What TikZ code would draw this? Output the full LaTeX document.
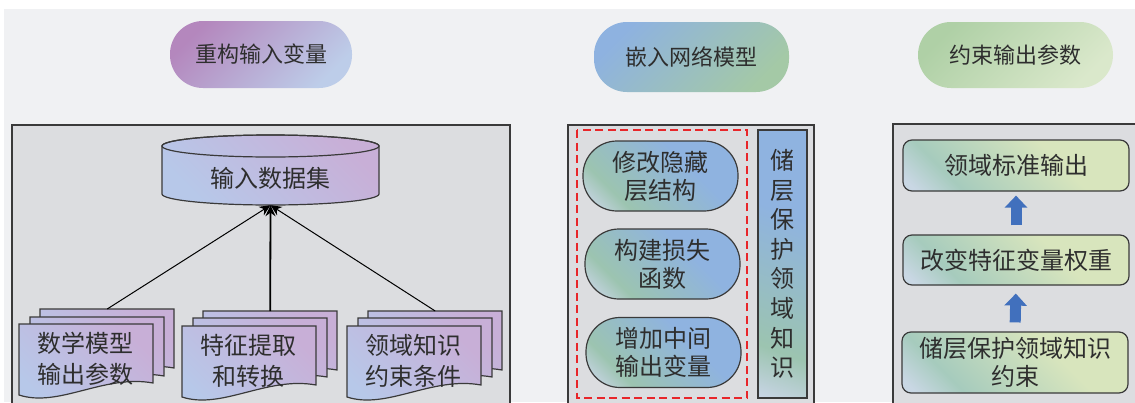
\documentclass[tikz,border=0pt]{standalone}
\usepackage{fontspec}
\setmainfont{Noto Sans CJK SC}
\usetikzlibrary{arrows.meta,calc}
\definecolor{bgc}{HTML}{F0F1F3}
\definecolor{panelc}{HTML}{DCDDE0}
\definecolor{edgec}{HTML}{3A3A3A}
\definecolor{txtc}{HTML}{2E2E2E}
\definecolor{purA}{HTML}{B487BD}
\definecolor{bluA}{HTML}{BDCDE9}
\definecolor{bluB}{HTML}{8EB2E0}
\definecolor{grnB}{HTML}{A4C9A6}
\definecolor{grnC}{HTML}{AFD0A6}
\definecolor{litC}{HTML}{DAE8CB}
\definecolor{purD}{HTML}{C8AFD7}
\definecolor{bluD}{HTML}{B7C8E9}
\definecolor{mpLight}{HTML}{C9D5E6}
\definecolor{mpGreen}{HTML}{9CC4B0}
\definecolor{mpBlue}{HTML}{8FB3E0}
\definecolor{rbLight}{HTML}{C9D7E4}
\definecolor{rbTeal}{HTML}{A6CBBD}
\definecolor{rbYel}{HTML}{D8E5BD}
\definecolor{arrowblue}{HTML}{4170BD}
\definecolor{dashred}{HTML}{E8262A}
\pgfdeclareverticalshading{midpillshade}{100bp}{color(0bp)=(mpLight); color(18bp)=(mpLight); color(30bp)=(mpGreen); color(62bp)=(mpBlue); color(100bp)=(mpBlue)}
\pgfdeclareverticalshading{rightboxshade}{100bp}{color(0bp)=(rbLight); color(18bp)=(rbLight); color(30bp)=(rbTeal); color(62bp)=(rbYel); color(100bp)=(rbYel)}
\tikzset{
  panel/.style={draw=edgec, fill=panelc, line width=1.4pt},
  toppill/.style={rounded corners=33pt, inner sep=0pt, text=txtc, font=\fontsize{22pt}{26pt}\selectfont},
  pillA/.style={toppill, top color=purA, bottom color=bluA, shading angle=45},
  pillB/.style={toppill, top color=bluB, bottom color=grnB, shading angle=45},
  pillC/.style={toppill, top color=grnC, bottom color=litC, shading angle=45},
  purshade/.style={top color=purD, bottom color=bluD, shading angle=-45},
  docfill/.style={purshade, draw=edgec, line width=1.2pt},
  doctext/.style={text=txtc, align=center, font=\fontsize{24pt}{31pt}\selectfont},
  ghost/.style={inner sep=0pt, minimum width=134pt, minimum height=59pt, anchor=north west},
  midpill/.style={draw=edgec, line width=1.2pt, rounded corners=34pt, shading=midpillshade, shading angle=-45, text=txtc, align=center, inner sep=0pt, minimum width=155pt, minimum height=70pt, font=\fontsize{24pt}{28pt}\selectfont},
  vbox/.style={draw=edgec, line width=1.2pt, shading=midpillshade, shading angle=-20, text=txtc, align=center, inner sep=0pt, minimum width=49pt, minimum height=268pt, font=\fontsize{24pt}{29.6pt}\selectfont},
  rbox/.style={draw=edgec, line width=1.2pt, rounded corners=9pt, shading=rightboxshade, shading angle=-45, text=txtc, align=center, inner sep=0pt, minimum width=226pt, font=\fontsize{24pt}{28pt}\selectfont},
  thinarrow/.style={draw=black, line width=1pt, -{Stealth[length=11pt,width=10pt]}},
  thickarrow/.style={draw=black, line width=1.8pt, -{Stealth[length=11pt,width=10pt]}},
  blockarrow/.style={draw=arrowblue, line width=11pt, -{Triangle[length=12pt,width=22pt]}},
  docpage/.pic={\path[docfill] (0,0) -- (134,0) -- (134,59) .. controls (85,50) and (40,84) .. (0,71) -- cycle;}
}
\begin{document}
\begin{tikzpicture}[x=1pt,y=-1pt]
\useasboundingbox (0,0) rectangle (1135,402);
\clip (0,0) rectangle (1135,402);
\fill[white] (0,0) rectangle (1135,402);
\fill[bgc] (4,9) rectangle (1135,402);
% top pills
\node[pillA, minimum width=182pt, minimum height=67pt] (tA) at (261,54.5) {重构输入变量};
\node[pillB, minimum width=195pt, minimum height=70pt] (tB) at (691.5,57) {嵌入网络模型};
\node[pillC, minimum width=195pt, minimum height=66pt] (tC) at (1015.5,55) {约束输出参数};
% panels
\draw[panel] (12,125) rectangle (510,412);
\draw[panel] (568,125) rectangle (814,412);
\draw[panel] (893,124) rectangle (1145,412);
% cylinder
\path[purshade, draw=edgec, line width=1.2pt] (162,146) -- (162,194) arc[start angle=180, end angle=360, x radius=108.5pt, y radius=11pt] -- (379,146) arc[start angle=0, end angle=180, x radius=108.5pt, y radius=11pt] -- cycle;
\draw[edgec, line width=1.2pt] (270.5,146) ellipse[x radius=108.5pt, y radius=11pt];
\node[inner sep=0pt, minimum width=217pt, minimum height=54pt, text=txtc, font=\fontsize{24pt}{28pt}\selectfont] (db) at (270.5,178) {输入数据集};
% document stacks
\pic at (40,309) {docpage};
\pic at (30,317) {docpage};
\pic at (19,324) {docpage};
\node[ghost] (d1b) at (40,309) {};
\node[doctext] (d1) at (85.5,359) {数学模型\\输出参数};
\pic at (203,311) {docpage};
\pic at (193,318) {docpage};
\pic at (182,326) {docpage};
\node[ghost] (d2b) at (203,311) {};
\node[doctext] (d2) at (248.5,361) {特征提取\\和转换};
\pic at (368,311) {docpage};
\pic at (358,318) {docpage};
\pic at (347,326) {docpage};
\node[ghost] (d3b) at (368,311) {};
\node[doctext] (d3) at (413.5,361) {领域知识\\约束条件};
\draw[thinarrow] (d1b.north) -- (db.south);
\draw[thickarrow] (d2b.north) -- (db.south);
\draw[thinarrow] (d3b.north) -- (db.south);
% middle panel
\draw[dashred, line width=2pt, dash pattern=on 8pt off 4.5pt] (577,130) rectangle (747,398);
\node[midpill] (m1) at (660.5,176) {修改隐藏\\层结构};
\node[midpill] (m2) at (662.5,264) {构建损失\\函数};
\node[midpill] (m3) at (663.5,352.5) {增加中间\\输出变量};
\node[vbox] (vk) at (782.5,264) {储\\层\\保\\护\\领\\域\\知\\识};
% right panel
\node[rbox, minimum height=51pt] (r1) at (1016,165.5) {领域标准输出};
\node[rbox, minimum height=50pt] (r2) at (1016,260) {改变特征变量权重};
\node[rbox, minimum height=61pt] (r3) at (1015,362.5) {储层保护领域知识\\约束};
\draw[blockarrow, shorten <=9pt, shorten >=4pt] (r2.north) -- (r1.south);
\draw[blockarrow, shorten <=9pt, shorten >=8pt] (r3.north) -- (r2.south);
\end{tikzpicture}
\end{document}
